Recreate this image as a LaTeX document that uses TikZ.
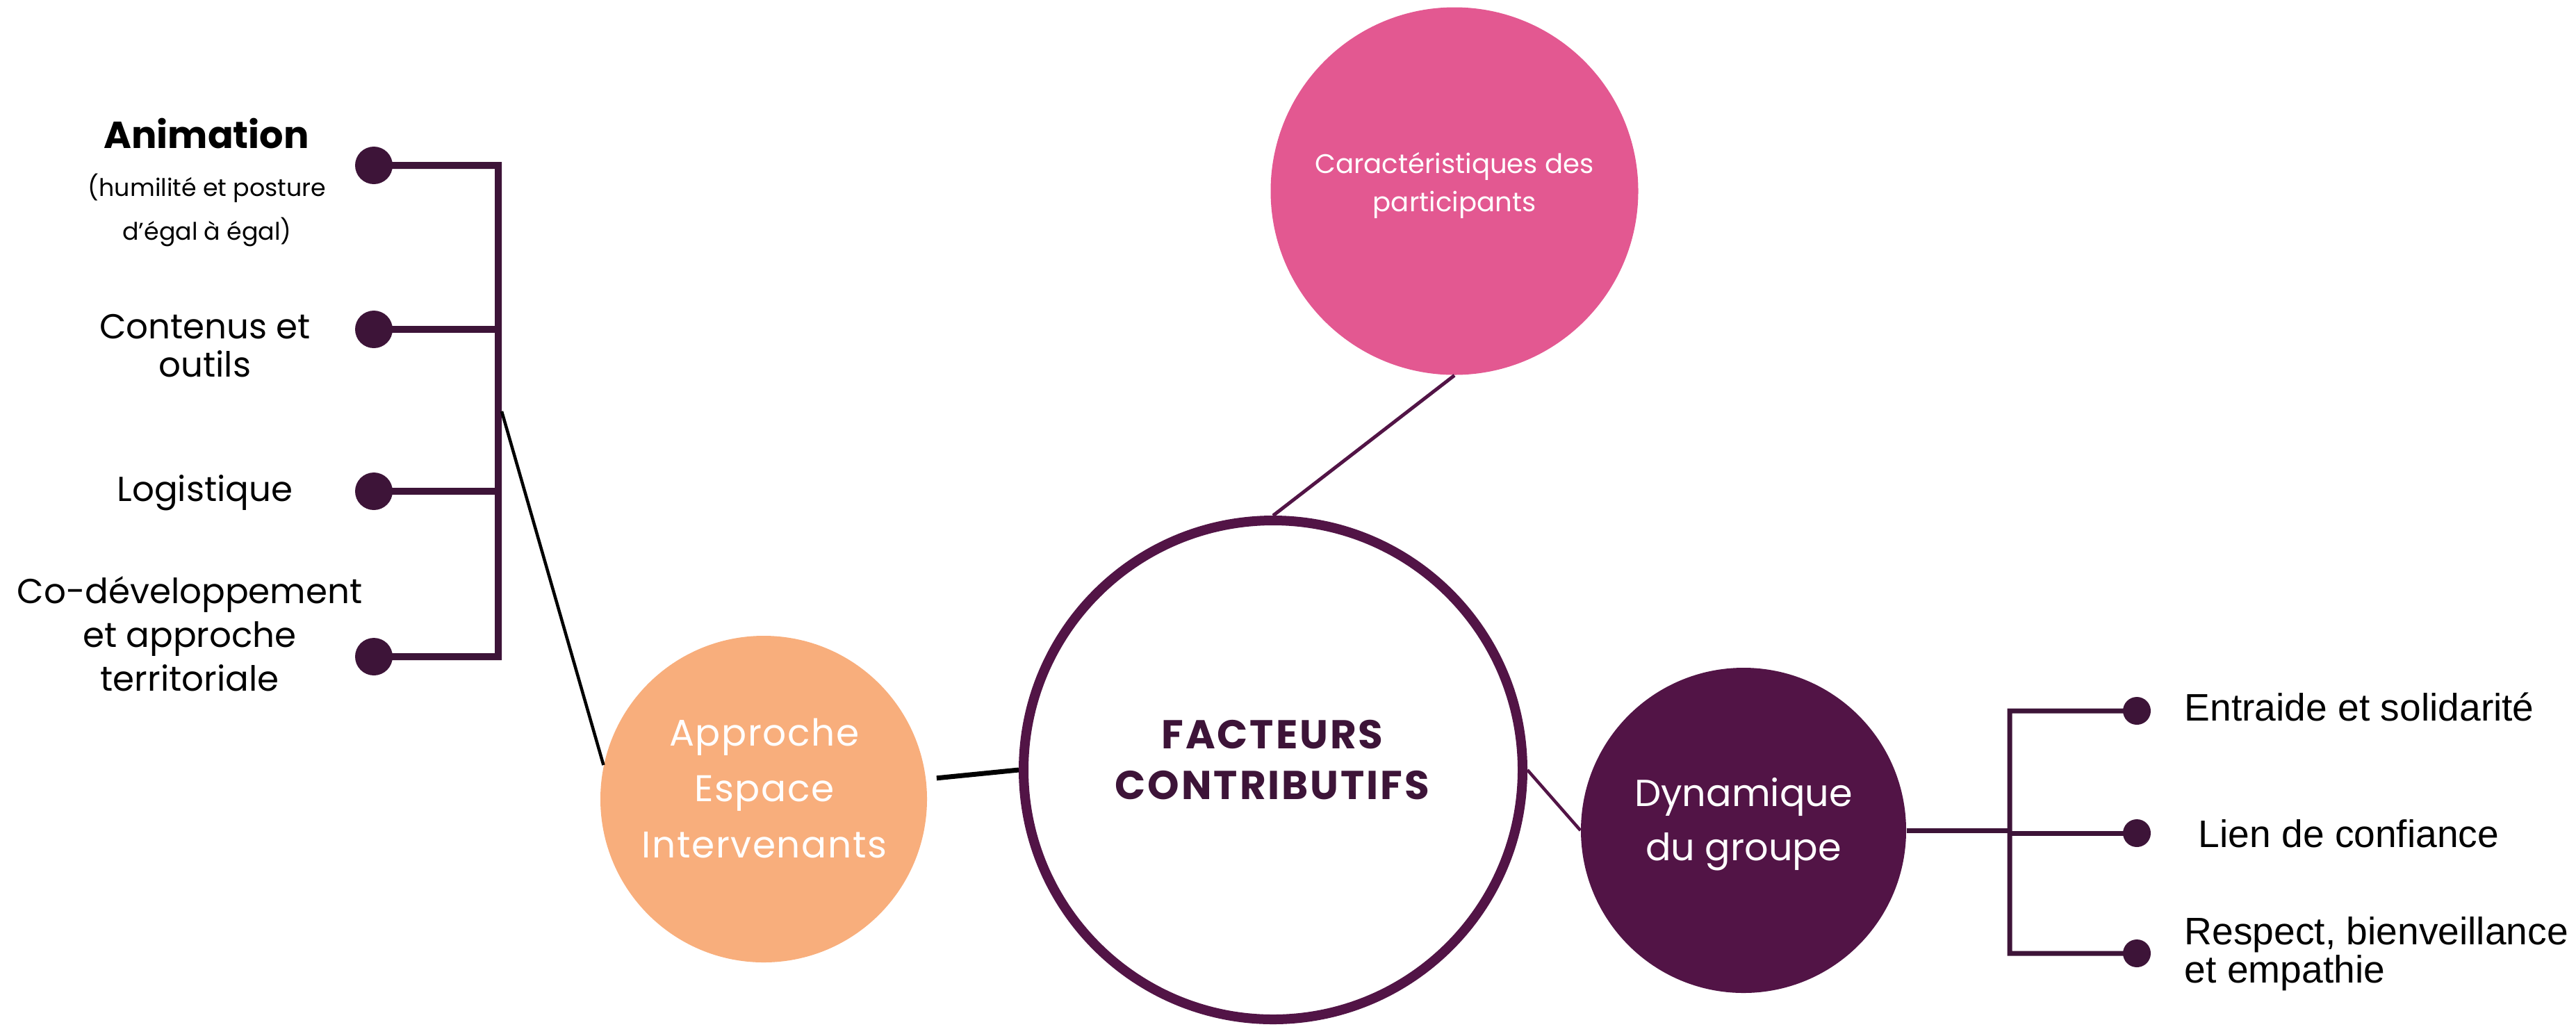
\documentclass[tikz,border=0pt]{standalone}
\usepackage{fontspec}
\setmainfont{Poppins}
\newfontfamily\rightfont{Liberation Sans}
\newfontfamily\hubfont[LetterSpace=5]{Poppins}
\newfontfamily\airyfont[LetterSpace=3]{Poppins}
\usetikzlibrary{positioning}

\definecolor{plum}{RGB}{82,20,70}
\definecolor{darkplum}{RGB}{61,20,56}
\definecolor{rosepink}{RGB}{227,88,145}
\definecolor{peach}{RGB}{248,174,124}

\begin{document}
\begin{tikzpicture}[on grid, auto,
    bubble/.style={circle, inner sep=0pt},
    dot/.style={circle, fill=darkplum, inner sep=0pt, minimum size=#1},
    bubtext/.style={align=center, inner sep=0pt, anchor=base},
    lefttext/.style={align=center, inner sep=0pt, anchor=base, font=\fontsize{14.2}{17.9}\selectfont},
    righttext/.style={align=left, inner sep=0pt, anchor=base west, font=\rightfont\fontsize{15.7}{15.6}\selectfont},
    lbar/.style={draw=darkplum, line width=0.10cm},
    rbar/.style={draw=darkplum, line width=0.07cm}]

  \useasboundingbox (0,0) rectangle (37.07,-14.77);

  % bubbles
  \node[bubble, draw=plum, line width=0.14cm, minimum size=7.18cm] (hub) at (18.32,-11.08) {};
  \node[bubble, fill=rosepink, minimum size=5.29cm] (profil) at (20.93,-2.75) {};
  \node[bubble, fill=peach, minimum size=4.70cm] (espace) at (10.99,-11.50) {};
  \node[bubble, fill=plum, minimum size=4.68cm] (groupe) at (25.09,-11.95) {};

  \node[bubtext, font=\hubfont\bfseries\fontsize{16.5}{20.5}\selectfont, text=darkplum] (hubtitle) at (18.31,-11.50) {FACTEURS\\CONTRIBUTIFS};
  \node[bubtext, font=\fontsize{11}{15.6}\selectfont, text=white] (profiltitle) at (20.93,-3.04) {Caractéristiques des\\participants};
  \node[bubtext, font=\airyfont\fontsize{15.2}{22.8}\selectfont, text=white] (espacetitle) at (11.00,-12.34) {Approche\\Espace\\Intervenants};
  \node[bubtext, font=\fontsize{15.4}{22.2}\selectfont, text=white] (groupetitle) at (25.09,-12.385) {Dynamique\\du groupe};

  % left branch
  \node[dot=0.54cm] (anim) at (5.38,-2.38) {};
  \node[dot=0.54cm, below=2.36cm of anim] (outils) {};
  \node[dot=0.54cm, below=2.33cm of outils] (logist) {};
  \node[dot=0.54cm, below=2.38cm of logist] (codev) {};

  \node[lefttext, font=\bfseries\fontsize{15.4}{17.9}\selectfont] (animtext) at (2.97,-2.13) {Animation};
  \node[lefttext, font=\fontsize{9.9}{17.9}\selectfont] (animnote) at (2.98,-3.45) {(humilité et posture\\d’égal à égal)};
  \node[lefttext, font=\fontsize{14.2}{15.6}\selectfont] (outilstext) at (2.95,-5.42) {Contenus et\\outils};
  \node[lefttext] (logisttext) at (2.95,-7.21) {Logistique};
  \node[lefttext] (codevtext) at (2.73,-9.94) {Co-développement\\et approche\\territoriale};

  % right branch
  \node[dot=0.40cm] (entraide) at (30.75,-10.23) {};
  \node[dot=0.40cm, below=1.76cm of entraide] (confiance) {};
  \node[dot=0.40cm, below=1.73cm of confiance] (respect) {};

  \node[righttext] (entraidetext) at (31.43,-10.37) {Entraide et solidarité};
  \node[righttext] (confiancetext) at (31.63,-12.19) {Lien de confiance};
  \node[righttext] (respecttext) at (31.43,-14.14) {Respect, bienveillance\\et empathie};

  \coordinate (lbot) at (7.17,-9.45);
  \coordinate (ljoin) at (7.22,-5.92);
  \coordinate (rbot) at (28.92,-13.72);

  % connectors
  \draw[lbar] (anim.center) -| (lbot) -- (codev.center);
  \draw[lbar] (outils.center) -- (outils -| lbot);
  \draw[lbar] (logist.center) -- (logist -| lbot);
  \draw[black, line width=0.045cm] (ljoin) -- (espace.168);
  \draw[black, line width=0.07cm, shorten <=0.15cm] (espace.7) -- (hub.west);
  \draw[plum, line width=0.05cm] (profil.south) -- (hub.north);
  \draw[plum, line width=0.045cm] (hub.east) -- (groupe.west);
  \draw[rbar] (groupe.east) -- (groupe.east -| rbot);
  \draw[rbar] (entraide.center) -| (rbot) -- (respect.center);
  \draw[rbar] (confiance.center) -- (confiance -| rbot);
\end{tikzpicture}
\end{document}
